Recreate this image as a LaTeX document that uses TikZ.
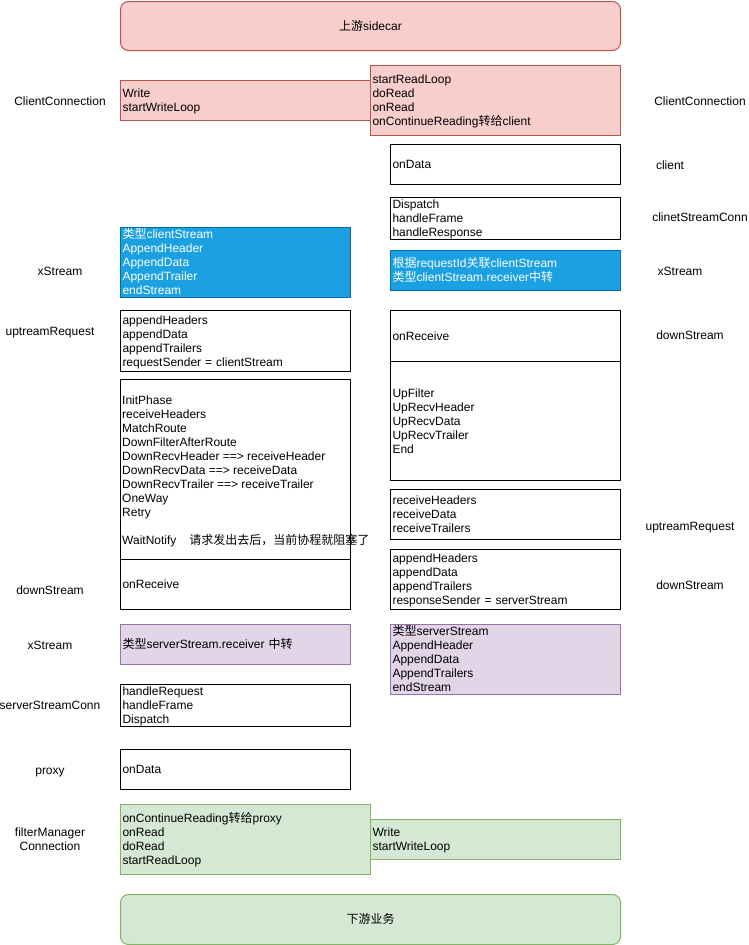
\documentclass[tikz,border=0pt]{standalone}
\usepackage{fontspec}
\setmainfont{Liberation Sans}
\newfontfamily\zhfont{Noto Sans CJK SC}
\newcommand{\zh}[1]{{\zhfont #1}}
\newcommand{\lnstrut}{\rule[-2.84pt]{0pt}{14pt}}
\definecolor{pinkF}{HTML}{F8CECC}
\definecolor{pinkD}{HTML}{B85450}
\definecolor{blueF}{HTML}{1BA1E2}
\definecolor{blueD}{HTML}{006EAF}
\definecolor{purF}{HTML}{E1D5E7}
\definecolor{purD}{HTML}{9673A6}
\definecolor{grF}{HTML}{D5E8D4}
\definecolor{grD}{HTML}{82B366}
\begin{document}
\begin{tikzpicture}[x=1pt,y=-1pt,
  every node/.style={font=\fontsize{12}{14}\selectfont},
  box/.style 2 args={draw, line width=1pt, anchor=north west, inner xsep=2pt, inner ysep=0pt,
    minimum width=#1pt, minimum height=#2pt, text width=#1pt-4pt, align=left,
    execute at begin node=\lnstrut, execute at end node=\lnstrut},
  rbox/.style 2 args={draw, line width=1pt, anchor=north west, rounded corners=8pt,
    minimum width=#1pt, minimum height=#2pt, align=center,
    execute at begin node=\lnstrut, execute at end node=\lnstrut},
  textblk/.style={anchor=north west, inner sep=0pt, align=left},
  pink/.style={fill=pinkF, draw=pinkD},
  blue/.style={fill=blueF, draw=blueD, text=white},
  pur/.style={fill=purF, draw=purD},
  gr/.style={fill=grF, draw=grD},
  lbl/.style={align=center, inner sep=0pt,
    execute at begin node=\lnstrut, execute at end node=\lnstrut}]
\useasboundingbox (0,0) rectangle (748,945);

% top / bottom
\node[rbox={500}{49}, pink] (up) at (120,1) {\zh{上游}sidecar};
\node[rbox={500}{50}, gr] (down) at (120,894) {\zh{下游业务}};

% client connection
\node[box={250}{40}, pink] (ccL) at (120,80) {Write\\startWriteLoop};
\node[box={250}{70}, pink] (ccR) at (370,65) {startReadLoop\\doRead\\onRead\\onContinueReading\zh{转给}client};

% right column upper
\node[box={230}{40}] (ondataR) at (390,144) {onData};
\node[box={230}{40}] (dispR) at (390,197) {Dispatch\\handleFrame\\handleResponse};
\node[box={230}{40}, blue] (blueR) at (390,250) {\zh{根据}requestId\zh{关联}clientStream\\\zh{类型}clientStream.receiver\zh{中转}};

% left column upper
\node[box={230}{70}, blue] (blueL) at (120,227) {\zh{类型}clientStream\\AppendHeader\\AppendData\\AppendTrailer\\endStream};
\node[box={230}{61}] (upreq) at (120,310) {appendHeaders\\appendData\\appendTrailers\\requestSender = clientStream};
\node[box={230}{180}] (phase) at (120,379) {};
\node[textblk] (phaseT) at (122,393) {\lnstrut InitPhase\\receiveHeaders\\MatchRoute\\DownFilterAfterRoute\\DownRecvHeader ==> receiveHeader\\DownRecvData ==> receiveData\\DownRecvTrailer ==> receiveTrailer\\OneWay\\Retry\\[14pt]WaitNotify\hspace{13pt}\zh{请求发出去后，当前协程就阻塞了}};
\node[box={230}{50}] (recvL) at (120,559) {onReceive};

% right column middle
\node[box={230}{51}] (recvR) at (390,310) {onReceive};
\node[box={230}{119}] (filtR) at (390,361) {UpFilter\\UpRecvHeader\\UpRecvData\\UpRecvTrailer\\End};
\node[box={230}{50}] (rcvhdr) at (390,489) {receiveHeaders\\receiveData\\receiveTrailers};
\node[box={230}{60}] (appR) at (390,549) {appendHeaders\\appendData\\appendTrailers\\responseSender = serverStream};

% purple
\node[box={230}{40}, pur] (purL) at (120,624) {\zh{类型}serverStream.receiver \zh{中转}};
\node[box={230}{70}, pur] (purR) at (390,624) {\zh{类型}serverStream\\AppendHeader\\AppendData\\AppendTrailers\\endStream};

% lower left
\node[box={230}{40}] (hreq) at (120,684) {handleRequest\\handleFrame\\Dispatch};
\node[box={230}{40}] (ondataL) at (120,749) {onData};

% green
\node[box={250}{70}, gr] (grL) at (120,804) {onContinueReading\zh{转给}proxy\\onRead\\doRead\\startReadLoop};
\node[box={250}{40}, gr] (grR) at (370,819) {Write\\startWriteLoop};

% left labels
\node[lbl] (lCC) at (60,101) {ClientConnection};
\node[lbl] (lX1) at (60,271) {xStream};
\node[lbl] (lUR) at (50,331) {uptreamRequest};
\node[lbl] (lDS) at (50,590) {downStream};
\node[lbl] (lX2) at (50,645) {xStream};
\node[lbl] (lSSC) at (50,705) {serverStreamConn};
\node[lbl] (lPX) at (50,770) {proxy};
\node[lbl] (lFM) at (50,841) {filterManager\\Connection};

% right labels
\node[lbl] (rCC) at (700,101) {ClientConnection};
\node[lbl] (rCl) at (670,165) {client};
\node[lbl] (rCSC) at (700,217) {clinetStreamConn};
\node[lbl] (rX) at (680,271) {xStream};
\node[lbl] (rDS1) at (690,335) {downStream};
\node[lbl] (rUR) at (690,526) {uptreamRequest};
\node[lbl] (rDS2) at (690,585) {downStream};
\end{tikzpicture}
\end{document}
